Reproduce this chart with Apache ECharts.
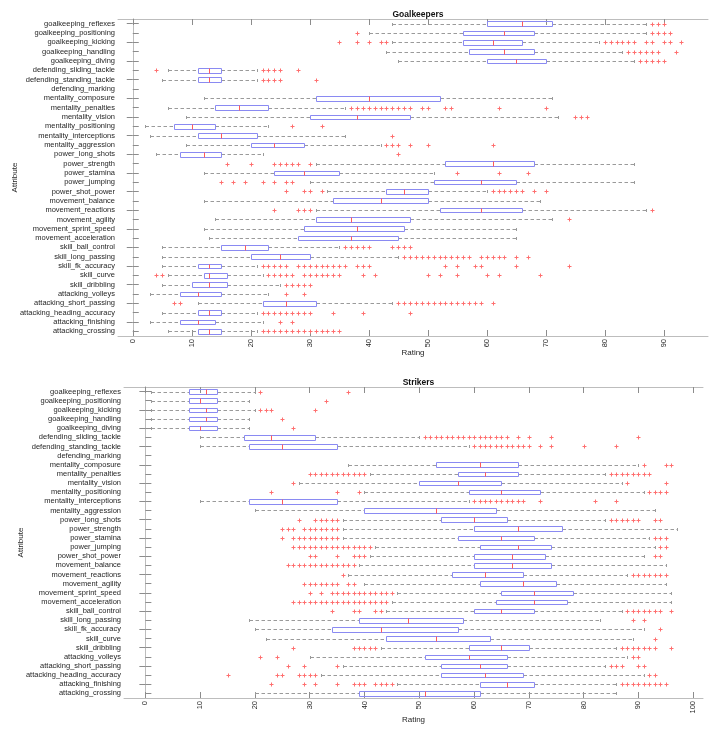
<!DOCTYPE html>
<html>
<head>
<meta charset="utf-8">
<script src="https://cdn.jsdelivr.net/npm/echarts@6/dist/echarts.min.js"></script>
<style>
html,body{margin:0;padding:0;background:#fff;}
#c{width:715px;height:732px;}
</style>
</head>
<body>
<div id="c"></div>
<script>
const categories = [
  'goalkeeping_reflexes','goalkeeping_positioning','goalkeeping_kicking','goalkeeping_handling','goalkeeping_diving',
  'defending_sliding_tackle','defending_standing_tackle','defending_marking',
  'mentality_composure','mentality_penalties','mentality_vision','mentality_positioning','mentality_interceptions','mentality_aggression',
  'power_long_shots','power_strength','power_stamina','power_jumping','power_shot_power',
  'movement_balance','movement_reactions','movement_agility','movement_sprint_speed','movement_acceleration',
  'skill_ball_control','skill_long_passing','skill_fk_accuracy','skill_curve','skill_dribbling',
  'attacking_volleys','attacking_short_passing','attacking_heading_accuracy','attacking_finishing','attacking_crossing'
];

const panelTitles = ['Goalkeepers', 'Strikers'];
const xTicksGK = [0,10,20,30,40,50,60,70,80,90];
const xTicksST = [0,10,20,30,40,50,60,70,80,90,100];

// Goalkeepers: whisker low, Q1, median, Q3, whisker high (null = no data)
const gkLow    = [44,40,44,43,45, 6, 5,null,12, 6, 9, 2, 3, 9, 4,31,12,30,33,12,31,14,12,13, 5, 5, 5, 6, 5, 3,11, 5, 3, 6];
const gkQ1     = [60,56,56,57,60,11,11,null,31,14,30, 7,11,20, 8,53,24,51,43,34,52,31,29,28,15,20,11,12,10, 8,22,11, 8,11];
const gkMedian = [66,63,61,63,65,13,13,null,40,18,38,10,15,24,12,61,29,59,46,42,59,37,38,37,19,25,13,13,13,11,26,13,11,13];
const gkQ3     = [71,68,66,68,70,15,15,null,52,23,47,14,21,29,15,68,35,65,50,50,66,47,46,45,23,30,15,16,16,15,31,15,14,15];
const gkHigh   = [87,87,79,83,85,21,21,null,71,36,72,23,36,42,22,85,51,85,60,69,87,71,65,65,35,45,21,22,25,23,44,21,22,21];
const gkOutliers = [
  [88,89,90],
  [38,88,89,90,91],
  [35,38,40,42,43,80,81,82,83,84,85,87,88,90,91,93],
  [84,85,86,87,88,89,92],
  [86,87,88,89,90],
  [4,22,23,24,25,28],
  [22,23,24,25,31],
  [],
  [],
  [37,38,39,40,41,42,43,44,45,46,47,49,50,53,54,62,70],
  [75,76,77],
  [27,32],
  [44],
  [43,44,45,47,50,61],
  [45],
  [16,20,24,25,26,27,28,30],
  [55,62,67],
  [15,17,19,22,24,26,27],
  [26,29,30,32,61,62,63,64,65,66,68,70],
  [],
  [24,28,29,30,88],
  [74],
  [],
  [],
  [36,37,38,39,40,44,45,46,47],
  [46,47,48,49,50,51,52,53,54,55,56,57,59,60,61,62,63,65,67],
  [22,23,24,25,26,28,29,30,31,32,33,34,35,36,38,39,40,53,55,58,59,65,74],
  [4,5,23,24,25,26,27,29,30,31,32,33,34,35,39,41,50,52,55,60,62,69],
  [26,27,28,29,30],
  [26,29],
  [7,8,45,46,47,48,49,50,51,52,53,54,55,56,57,58,59,61],
  [22,23,24,25,26,27,28,29,30,34,39,47],
  [25,27],
  [22,23,24,25,26,27,28,29,30,31,32,33,34,35]
];

// Strikers
const stLow    = [ 1, 1, 1, 1, 1,10,10,null,37,41,28,40,10,20,36,36,36,42,41,39,37,40,46,45,44,19,20,22,43,30,36,32,46,20];
const stQ1     = [ 8, 8, 8, 8, 8,18,19,null,53,57,50,59,19,40,54,60,57,61,60,60,56,61,65,64,60,39,34,44,59,51,54,54,61,39];
const stMedian = [11,10,11,11,10,23,25,null,61,62,57,65,25,53,60,68,65,68,67,67,62,69,71,71,65,48,43,53,65,59,61,62,66,51];
const stQ3     = [13,13,13,13,13,31,35,null,68,68,65,72,35,64,66,76,71,74,73,74,69,75,78,77,71,58,57,63,70,66,66,69,71,61];
const stHigh   = [20,19,20,19,19,50,59,null,90,84,87,91,59,93,84,97,92,93,91,95,88,95,96,96,87,83,91,89,86,88,84,91,86,86];
const stOutliers = [
  [21,37],
  [33],
  [21,22,23,31],
  [25],
  [27],
  [51,52,53,54,55,56,57,58,59,60,61,62,63,64,65,66,68,70,74,90],
  [60,61,62,63,64,65,66,67,68,69,70,72,74,80,86],
  [],
  [91,95,96],
  [30,31,32,33,34,35,36,37,38,39,40,85,86,87,88,89,90,91,92],
  [27,88,95],
  [23,35,39,92,93,94,95],
  [60,61,62,63,64,65,66,67,68,69,72,82,86],
  [],
  [28,31,32,33,34,35,85,86,87,88,89,90,93,94],
  [25,26,27,29,30,31,32,33,34,35],
  [25,27,28,29,30,31,32,33,34,35,93,94,95],
  [27,28,29,30,31,32,33,34,35,36,37,38,39,40,41,94,95],
  [30,31,35,38,39,40,93,94],
  [26,27,28,29,30,31,32,33,34,35,36,37,38],
  [36,89,90,91,92,93,94,95],
  [29,30,31,32,33,34,35,37,38],
  [30,32,34,35,36,37,38,39,40,41,42,43,44,45],
  [27,28,29,30,31,32,33,34,35,36,37,38,39,40,41,42,43,44],
  [34,38,39,42,43,88,89,90,91,92,93,94,96],
  [89,91],
  [94],
  [93],
  [27,38,39,40,41,42,87,88,89,90,91,92,93,96],
  [21,24,89,90],
  [26,29,35,85,86,87,90,91],
  [15,24,25,28,29,30,31,92,93],
  [23,29,31,35,38,39,40,42,43,44,45,87,88,89,90,91,92,93,94,95],
  []
];

function boxData(lo, q1, md, q3, hi) {
  const out = [];
  for (let i = 0; i < categories.length; i++) {
    if (md[i] == null) continue;
    out.push([i, lo[i], q1[i], md[i], q3[i], hi[i]]);
  }
  return out;
}
function outlierData(list) {
  const out = [];
  list.forEach((vals, i) => vals.forEach(v => out.push([v, i])));
  return out;
}

const BOX = '#8a8af2', MED = '#ff5a5a', WHISK = '#9a9a9a', OUT = '#ff6f6f';
const px = v => Math.round(v) + 0.5;

function renderBox(params, api) {
  const cat = api.value(0);
  const band = api.size([0, 1])[1];
  const h = band * 0.5;
  const yc = api.coord([0, cat])[1];
  const x = [1,2,3,4,5].map(d => api.coord([api.value(d), cat])[0]);
  const top = Math.round(yc - h / 2) + 0.5, bot = Math.round(yc + h / 2) + 0.5;
  const ym = px(yc);
  const capH = 1.5;
  const wStyle = { stroke: WHISK, lineWidth: 1, lineDash: [3.5, 2.5] };
  const cStyle = { stroke: WHISK, lineWidth: 1 };
  return {
    type: 'group',
    children: [
      { type: 'line', shape: { x1: px(x[0]), y1: ym, x2: px(x[1]), y2: ym }, style: wStyle },
      { type: 'line', shape: { x1: px(x[3]), y1: ym, x2: px(x[4]), y2: ym }, style: wStyle },
      { type: 'line', shape: { x1: px(x[0]), y1: ym - capH, x2: px(x[0]), y2: ym + capH }, style: cStyle },
      { type: 'line', shape: { x1: px(x[4]), y1: ym - capH, x2: px(x[4]), y2: ym + capH }, style: cStyle },
      { type: 'rect', shape: { x: px(x[1]), y: top, width: Math.round(x[3]) - Math.round(x[1]), height: bot - top },
        style: { fill: 'none', stroke: BOX, lineWidth: 1 } },
      { type: 'line', shape: { x1: px(x[2]), y1: top, x2: px(x[2]), y2: bot }, style: { stroke: MED, lineWidth: 1 } }
    ]
  };
}
function renderPlus(params, api) {
  const p = api.coord([api.value(0), api.value(1)]);
  const cx = px(p[0]), cy = px(p[1]), r = 2;
  const st = { stroke: OUT, lineWidth: 1 };
  return {
    type: 'group',
    children: [
      { type: 'line', shape: { x1: cx - r, y1: cy, x2: cx + r, y2: cy }, style: st },
      { type: 'line', shape: { x1: cx, y1: cy - r, x2: cx, y2: cy + r }, style: st }
    ]
  };
}

const FONT = 'Liberation Sans';
const TXT = '#262626';
const AX = '#bdbdbd';
const TICK = '#8c8c8c';

const grids = [
  { left: 118, top: 19, width: 590, height: 317, containLabel: false, outerBoundsMode: 'none' },
  { left: 124, top: 387, width: 579, height: 311, containLabel: false, outerBoundsMode: 'none' }
];
const ranges = [[-2.5, 97.5], [-3.9, 101.8]];
const tickSets = [xTicksGK, xTicksST];
const nameGaps = [13, 18];

const xAxes = [], yAxes = [], series = [], titles = [];
[0, 1].forEach(g => {
  const common = {
    type: 'value', gridIndex: g, min: ranges[g][0], max: ranges[g][1],
    splitLine: { show: false },
    axisLine: { show: true, onZero: false, lineStyle: { color: AX, width: 1 } },
    axisTick: { show: true, inside: true, length: 6, lineStyle: { color: TICK }, customValues: tickSets[g] }
  };
  xAxes.push(Object.assign({}, common, {
    position: 'bottom',
    name: 'Rating', nameLocation: 'middle', nameGap: nameGaps[g], nameMoveOverlap: false,
    nameTextStyle: { fontFamily: FONT, fontSize: 8, color: TXT },
    axisLabel: { show: true, rotate: 90, margin: 3, fontFamily: FONT, fontSize: 7.5, color: TXT, customValues: tickSets[g] }
  }));
  xAxes.push(Object.assign({}, common, { position: 'top', axisLabel: { show: false } }));
  const ycommon = {
    type: 'category', gridIndex: g, data: categories, inverse: true,
    splitLine: { show: false },
    axisLine: { show: true, lineStyle: { color: AX, width: 1 } },
    axisTick: { show: true, inside: true, alignWithLabel: true, length: 6, lineStyle: { color: TICK } }
  };
  yAxes.push(Object.assign({}, ycommon, {
    position: 'left',
    name: 'Attribute', nameLocation: 'middle', nameGap: 99, nameMoveOverlap: false,
    nameTextStyle: { fontFamily: FONT, fontSize: 8, color: TXT },
    axisLabel: { show: true, margin: 3, fontFamily: FONT, fontSize: 7.5, color: TXT, interval: 0 }
  }));
  yAxes.push(Object.assign({}, ycommon, { position: 'right', axisLabel: { show: false } }));

  const data = g === 0 ? boxData(gkLow, gkQ1, gkMedian, gkQ3, gkHigh) : boxData(stLow, stQ1, stMedian, stQ3, stHigh);
  const outs = g === 0 ? outlierData(gkOutliers) : outlierData(stOutliers);
  series.push({
    type: 'custom', name: panelTitles[g] + ' box', xAxisIndex: g * 2, yAxisIndex: g * 2,
    renderItem: renderBox, encode: { x: [1, 2, 3, 4, 5], y: 0 }, data: data, silent: true, clip: false
  });
  series.push({
    type: 'custom', name: panelTitles[g] + ' outliers', xAxisIndex: g * 2, yAxisIndex: g * 2,
    renderItem: renderPlus, encode: { x: 0, y: 1 }, data: outs, silent: true
  });
  titles.push({
    text: panelTitles[g], left: grids[g].left + grids[g].width / 2, textAlign: 'center',
    top: g === 0 ? 5 : 373,
    textStyle: { fontFamily: FONT, fontSize: 8.5, fontWeight: 'bold', color: '#111' }
  });
});

const chart = echarts.init(document.getElementById('c'), null, { renderer: 'canvas' });
chart.setOption({
  animation: false,
  backgroundColor: '#ffffff',
  title: titles,
  grid: grids,
  xAxis: xAxes,
  yAxis: yAxes,
  series: series
});
</script>
</body>
</html>
